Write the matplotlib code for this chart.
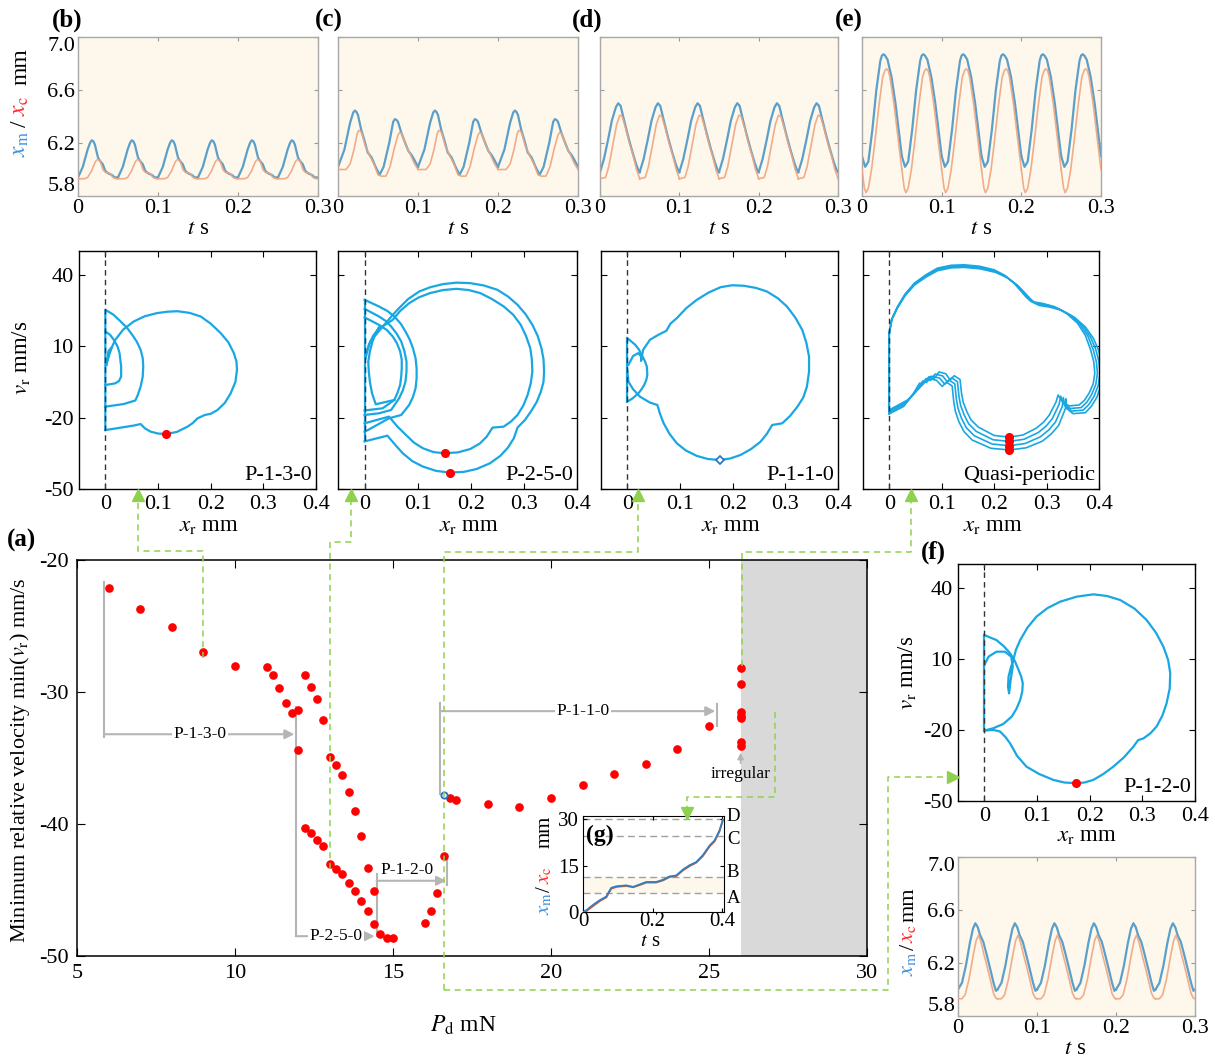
import numpy as np
import matplotlib
matplotlib.use('Agg')  # headless
import matplotlib.pyplot as plt
from matplotlib.lines import Line2D

plt.rcParams['font.family'] = ['Liberation Serif', 'DejaVu Serif']
plt.rcParams['mathtext.fontset'] = 'stix'
plt.rcParams['axes.unicode_minus'] = False

W, H = 1215, 1059

RED = '#ff0000'
CYAN = '#19a7e4'
TS_BLUE = '#5b9fca'
TS_ORANGE = '#f0a47f'
BEIGE = '#fdf8eb'
GREEN = '#8fd14f'
GREY = '#b5b5b5'
LBL_BLUE = '#3d8fdc'
LBL_RED = '#ff2a2a'

# ---------------- (a) minimum relative velocity vs driving force ----------------
p130_force = [6, 7, 8, 9, 10, 11, 11.2, 11.4, 11.6, 11.8]
p130_vmin = [-22.1, -23.7, -25.1, -27.0, -28.0, -28.1, -28.7, -29.7, -30.8, -31.6]
p250_force = [12.0, 12.2, 12.4, 12.6, 12.8, 13.0, 13.2, 13.4, 13.6, 13.8, 14.0, 14.2, 14.4]
p250_vmin_hi = [-31.4, -28.7, -29.6, -30.5, -32.1, -34.9, -35.5, -36.3, -37.6, -39.0, -40.9, -43.3, -45.1]
p250_vmin_lo = [-34.4, -40.3, -40.7, -41.2, -41.7, -43.0, -43.4, -43.8, -44.5, -45.1, -45.8, -46.6, -47.6]
p120_force = [14.6, 14.8, 15.0, 16.0, 16.2, 16.4, 16.6]
p120_vmin = [-48.3, -48.6, -48.6, -47.5, -46.6, -45.2, -42.4]
p110_force = [16.8, 17.0, 18, 19, 20, 21, 22, 23, 24, 25]
p110_vmin = [-38.0, -38.2, -38.5, -38.7, -38.05, -37.05, -36.2, -35.45, -34.3, -32.6]
grazing_force, grazing_vmin = 16.6, -37.8
irregular_force = [26.0, 26.0, 26.0, 26.0, 26.0, 26.0, 26.0]
irregular_vmin = [-28.2, -29.4, -31.5, -31.8, -32.0, -33.8, -34.1]
irregular_start = 26.0

# regime brackets: (start force, end force, level, label)
regimes = [(5.87, 11.88, -33.2, 'P-1-3-0'),
           (11.92, 14.42, -48.5, 'P-2-5-0'),
           (14.48, 16.68, -44.3, 'P-1-2-0'),
           (16.48, 25.2, -31.45, 'P-1-1-0')]

# ---------------- (g) displacement over the whole stroke ----------------
g_t = [0, 0.01, 0.03, 0.048, 0.067, 0.081, 0.096, 0.124, 0.144, 0.163, 0.182, 0.21,
       0.23, 0.249, 0.268, 0.287, 0.306, 0.325, 0.344, 0.364, 0.378, 0.392, 0.402]
g_xm = [0, 0.6, 2.4, 3.8, 5.0, 7.8, 8.3, 8.6, 8.1, 8.9, 9.7, 9.7,
        10.4, 11.5, 11.8, 13.7, 15.1, 16.1, 18.3, 21.5, 23.1, 26.3, 29.8]
g_xc = [0, 0.3, 2.0, 3.5, 4.7, 7.5, 8.1, 8.4, 8.0, 8.7, 9.5, 9.5,
        10.2, 11.3, 11.6, 13.4, 14.8, 15.9, 18.0, 21.2, 22.8, 26.0, 29.8]
g_levels = [6.0, 11.3, 24.7, 30.0]
g_names = ['A', 'B', 'C', 'D']

# ---------------- time histories, one forcing period each ----------------
b_t_m = [0, 0.006, 0.012, 0.015, 0.017, 0.019, 0.021, 0.025, 0.028, 0.031, 0.034, 0.038, 0.042, 0.046, 0.05]
b_x_m = [5.94, 6.02, 6.15, 6.2, 6.22, 6.215, 6.19, 6.09, 6.06, 6.04, 5.99, 5.97, 5.96, 5.94, 5.94]
b_t_c = [0, 0.008, 0.012, 0.017, 0.021, 0.023, 0.025, 0.027, 0.028, 0.031, 0.034, 0.04, 0.044, 0.048, 0.05]
b_x_c = [5.93, 5.93, 5.94, 5.99, 6.05, 6.07, 6.075, 6.07, 6.06, 6.0, 5.98, 5.97, 5.94, 5.93, 5.93]

c_t_m = [0, 0.008, 0.015, 0.019, 0.021, 0.023, 0.025, 0.029, 0.033, 0.037, 0.042, 0.047, 0.052,
         0.057, 0.064, 0.069, 0.071, 0.073, 0.075, 0.079, 0.084, 0.088, 0.093, 0.1]
c_x_m = [6.02, 6.15, 6.35, 6.43, 6.445, 6.435, 6.41, 6.3, 6.22, 6.13, 6.09, 6.02, 5.96,
         6.02, 6.2, 6.36, 6.38, 6.375, 6.36, 6.28, 6.2, 6.14, 6.1, 6.02]
c_t_c = [0, 0.01, 0.015, 0.02, 0.024, 0.026, 0.028, 0.03, 0.034, 0.04, 0.045, 0.05, 0.054,
         0.06, 0.065, 0.07, 0.075, 0.077, 0.079, 0.081, 0.085, 0.09, 0.095, 0.1]
c_x_c = [6.0, 6.0, 6.04, 6.15, 6.27, 6.295, 6.29, 6.27, 6.18, 6.1, 6.04, 5.96, 5.95,
         5.95, 6.02, 6.15, 6.26, 6.28, 6.275, 6.25, 6.18, 6.12, 6.05, 6.0]

d_t_m = [0, 0.005, 0.01, 0.015, 0.02, 0.023, 0.026, 0.03, 0.035, 0.04, 0.045, 0.048, 0.05]
d_x_m = [5.98, 6.08, 6.22, 6.37, 6.47, 6.5, 6.48, 6.38, 6.26, 6.15, 6.05, 6.0, 5.98]
d_t_c = [0, 0.007, 0.011, 0.016, 0.021, 0.025, 0.028, 0.032, 0.037, 0.042, 0.046, 0.049, 0.05]
d_x_c = [5.93, 5.94, 6.02, 6.18, 6.34, 6.41, 6.4, 6.32, 6.2, 6.1, 6.0, 5.95, 5.93]

e_t_m = [0, 0.004, 0.008, 0.013, 0.018, 0.023, 0.025, 0.027, 0.029, 0.032, 0.037, 0.042, 0.046, 0.05]
e_x_m = [6.1, 6.02, 6.06, 6.3, 6.6, 6.82, 6.86, 6.87, 6.86, 6.83, 6.7, 6.5, 6.3, 6.1]
e_t_c = [0, 0.003, 0.005, 0.008, 0.012, 0.016, 0.021, 0.026, 0.029, 0.031, 0.033, 0.035, 0.04, 0.045, 0.05]
e_x_c = [6.0, 5.86, 5.825, 5.86, 6.0, 6.2, 6.47, 6.7, 6.75, 6.76, 6.745, 6.7, 6.5, 6.25, 6.0]

f_t_m = [0, 0.005, 0.01, 0.015, 0.019, 0.022, 0.025, 0.028, 0.032, 0.036, 0.041, 0.045, 0.048, 0.05]
f_x_m = [6.0, 6.05, 6.18, 6.35, 6.46, 6.5, 6.47, 6.41, 6.36, 6.27, 6.15, 6.05, 5.99, 6.0]
f_t_c = [0, 0.005, 0.009, 0.014, 0.019, 0.023, 0.026, 0.029, 0.033, 0.037, 0.041, 0.045, 0.048, 0.05]
f_x_c = [5.93, 5.93, 5.96, 6.08, 6.25, 6.37, 6.41, 6.36, 6.26, 6.17, 6.07, 5.97, 5.935, 5.93]

# ---------------- phase trajectories (x_r mm, v_r mm/s) ----------------
b_loop = [(0, -25.2), (0, 25.3), (0.015, 23.3), (0.029, 20.4), (0.041, 17.8), (0.051, 14.8),
          (0.06, 11.8), (0.067, 8.5), (0.071, 5.0), (0.072, 1.5), (0.071, -2.8), (0.067, -7.0),
          (0.062, -10.3), (0.057, -12.8), (0.035, -14.3), (0, -15.4)]
b_inner = [(0, 16.2), (0.009, 14.8), (0.016, 12.7), (0.023, 10.0), (0.027, 7.1), (0.03, 1.5),
           (0.03, -2.75), (0.026, -4.6), (0.019, -5.6), (0, -6.3)]
b_spike = [(0.002, 2.0), (0.006, 8.0), (0.012, 9.5), (0.004, 4.0)]
b_big = [(0.002, 2.15), (0.008, 7.5), (0.019, 12.7), (0.034, 17.0), (0.054, 20.4), (0.075, 22.6),
         (0.098, 23.9), (0.118, 24.5), (0.137, 24.7), (0.16, 24.0), (0.181, 22.5), (0.2, 19.5),
         (0.219, 15.5), (0.234, 11.5), (0.244, 7.1), (0.249, 3.5), (0.25, 0.05), (0.247, -5.0),
         (0.238, -9.8), (0.227, -13.8), (0.213, -16.8), (0.2, -18.4), (0.189, -18.9),
         (0.175, -20.3), (0.166, -22.3), (0.156, -23.8), (0.136, -26.0), (0.116, -26.9),
         (0.1, -26.7), (0.086, -25.9), (0.075, -24.5), (0.067, -22.7), (0.055, -23.3),
         (0.041, -23.8), (0.01, -24.9), (0, -25.2)]
b_marks = [(0.116, -26.9)]

c_wall = [(0, -30.0), (0, 29.5)]
c_outer = [(0, -30.0), (0.043, -27.6), (0.058, -31.5), (0.072, -35.0), (0.09, -38.3), (0.11, -40.6),
           (0.135, -42.4), (0.161, -43.1), (0.187, -42.8), (0.211, -41.6), (0.236, -39.2),
           (0.256, -36.0), (0.27, -32.6), (0.281, -28.7), (0.288, -24.2), (0.302, -21.0),
           (0.313, -17.5), (0.324, -13.5), (0.332, -9.1), (0.337, -4.9), (0.338, -0.65),
           (0.337, 4.4), (0.333, 9.2), (0.326, 14.3), (0.316, 19.0), (0.303, 23.5), (0.288, 27.4),
           (0.27, 30.9), (0.25, 33.7), (0.225, 35.5), (0.199, 36.5), (0.173, 36.7), (0.148, 36.1),
           (0.124, 34.8), (0.103, 33.0), (0.082, 29.8), (0.065, 26.0), (0.052, 22.9), (0.04, 19.7),
           (0.025, 15.8), (0.011, 12.0), (0.002, 6.4)]
c_inner = [(0, -22.4), (0.046, -19.6), (0.062, -23.8), (0.078, -27.3), (0.093, -30.5), (0.11, -32.9),
           (0.13, -34.5), (0.151, -35.0), (0.176, -34.6), (0.199, -33.2), (0.217, -30.9),
           (0.23, -28.0), (0.241, -24.2), (0.262, -23.8), (0.276, -21.6), (0.288, -18.9),
           (0.299, -14.9), (0.307, -10.5), (0.313, -5.5), (0.316, -0.65), (0.315, 4.4),
           (0.312, 9.2), (0.304, 14.3), (0.294, 19.0), (0.28, 23.2), (0.262, 26.7), (0.24, 29.8),
           (0.218, 32.3), (0.196, 33.6), (0.173, 34.1), (0.148, 33.6), (0.123, 32.3), (0.102, 30.5),
           (0.084, 28.1), (0.067, 24.8), (0.053, 21.1), (0.04, 19.2), (0.027, 17.6), (0.016, 14.3),
           (0.008, 10.6), (0.002, 5.0)]
c_arc1 = [(0, 29.5), (0.027, 26.7), (0.043, 24.8), (0.056, 22.5), (0.068, 19.5), (0.077, 16.2),
          (0.085, 12.8), (0.091, 9.2), (0.096, 5.0), (0.098, 0.75), (0.098, -3.5), (0.096, -7.7),
          (0.091, -11.4), (0.084, -14.7), (0.069, -18.9), (0.046, -20.3), (0, -26.0)]
c_arc2 = [(0, 25.7), (0.027, 22.5), (0.04, 20.6), (0.05, 18.3), (0.06, 15.4), (0.069, 12.0),
          (0.075, 7.9), (0.079, 3.55), (0.079, -0.7), (0.077, -4.9), (0.072, -8.6), (0.065, -11.9),
          (0.05, -16.8), (0.027, -18.2), (0, -18.9)]
c_arc3 = [(0, 22.1), (0.027, 19.0), (0.042, 16.8), (0.053, 14.1), (0.061, 11.2), (0.067, 7.8),
          (0.07, 4.3), (0.07, 0.75), (0.069, -2.8), (0.067, -6.3), (0.062, -9.6), (0.056, -12.6),
          (0.034, -16.1), (0, -17.0)]
c_arc4 = [(0.027, 17.9), (0.02, 15.0), (0.015, 12.0), (0.01, 7.8), (0.007, 3.55), (0.008, -0.7),
          (0.01, -4.9), (0.014, -9.7), (0.021, -14.4), (0.056, -12.6)]
c_marks = [(0.151, -35.0), (0.161, -43.1)]

d_wall = [(0, 13.4), (0, -13.3)]
d_lens = [(0, 13.4), (0.015, 10.6), (0.022, 8.6), (0.027, 6.4), (0.033, 3.9), (0.037, 1.45),
          (0.038, -2.05), (0.036, -4.2), (0.032, -6.3), (0.027, -8.1), (0.021, -9.8),
          (0.01, -11.9), (0, -13.3)]
d_big = [(0.002, 2.15), (0.011, 5.9), (0.021, 7.1), (0.027, 5.4), (0.026, 3.8), (0.03, 8.5),
         (0.043, 12.7), (0.059, 14.8), (0.074, 16.45), (0.082, 19.5), (0.094, 21.8), (0.112, 26.0),
         (0.132, 29.5), (0.154, 32.5), (0.177, 34.8), (0.199, 35.6), (0.221, 35.4), (0.244, 34.5),
         (0.265, 33.0), (0.286, 30.1), (0.303, 26.7), (0.319, 22.0), (0.332, 16.9), (0.34, 11.4),
         (0.345, 5.65), (0.345, -0.7), (0.341, -6.96), (0.334, -11.6), (0.323, -15.4),
         (0.309, -19.3), (0.294, -22.4), (0.275, -23.1), (0.265, -26.8), (0.253, -30.1),
         (0.235, -33.2), (0.215, -35.7), (0.195, -37.2), (0.175, -37.8), (0.153, -37.4),
         (0.132, -36.1), (0.111, -33.8), (0.094, -30.8), (0.08, -26.8), (0.069, -22.4),
         (0.062, -18.4), (0.057, -14.7), (0.043, -13.7), (0.024, -11.2), (0.011, -8.1),
         (0.002, -4.9), (0, 0)]
d_marks = [(0.175, -37.8)]

e_base = [(0, -16.8), (0, 15.5), (0.005, 21.5), (0.016, 26.7), (0.03, 31.8), (0.048, 36.5),
          (0.07, 40.0), (0.092, 42.8), (0.118, 44.0), (0.143, 44.2), (0.172, 43.6), (0.2, 42.1),
          (0.22, 39.8), (0.238, 36.5), (0.26, 30.9), (0.27, 28.8), (0.292, 28.0), (0.314, 26.7),
          (0.338, 23.8), (0.359, 19.7), (0.374, 14.5), (0.384, 8.5), (0.39, 3.5), (0.392, -1.35),
          (0.389, -5.8), (0.381, -9.8), (0.372, -12.8), (0.362, -14.7), (0.343, -15.1),
          (0.33, -13.3), (0.322, -10.5), (0.318, -13.5), (0.305, -19.0), (0.294, -22.0),
          (0.28, -24.5), (0.255, -27.3), (0.229, -28.2), (0.2, -27.5), (0.17, -24.0),
          (0.156, -21.0), (0.148, -17.5), (0.141, -13.5), (0.138, -10.0), (0.135, -4.0),
          (0.124, -2.4), (0.116, -4.2), (0.108, -1.6), (0.095, -0.8), (0.086, -3.5),
          (0.076, -2.8), (0.06, -7.0), (0.035, -12.6), (0, -16.8)]
# how strongly each point of the quasi-periodic orbit drifts (velocity, displacement)
e_spread_v = [0.3, 0, 0.05, 0.1, 0.12, 0.15, 0.18, 0.2, 0.2, 0.2, 0.2, 0.2,
              0.2, 0.2, 0.3, 0.3, 0.3, 0.3, 0.3, 0.3, 0.2, 0, 0, 0,
              0.1, 0.3, 0.45, 0.6, 0.6, 0.5, 0.3, 0.5, 0.8, 0.9, 1, 1,
              1, 1, 1, 0.9, 0.8, 0.7, 0.6, 0.5, 0.5, 0.5, 0.5, 0.5,
              0.5, 0.5, 0.6, 0.5, 0.3]
e_spread_x = [0, 0, 0, 0, 0, 0, 0, 0, 0, 0, 0.1, 0.2,
              0.35, 0.5, 0.8, 1, 1, 1, 1, 1, 1, 1, 1, 1,
              1, 1, 0.9, 0.8, 0.5, 0.5, 1, 1.2, 1.2, 1, 0.8, 0.4,
              0, -0.4, -0.8, -0.9, -1, -1, -1, -1, -1, -1, -1.2, -1.5,
              -1.5, -1.2, -1, -0.5, 0]
e_drift_v = [0, 1.8, 3.6, 5.4]
e_drift_x = [0, 0.005, 0.01, 0.015]
e_mark_x, e_mark_v = 0.229, -28.2

f_wall = [(0, 20.0), (0, -20.3)]
f_arc = [(0, 20.0), (0.023, 17.9), (0.037, 15.3), (0.049, 12.3), (0.058, 9.0), (0.065, 5.3),
         (0.07, 2.5), (0.073, -0.35), (0.072, -3.9), (0.068, -7.4), (0.061, -11.1), (0.052, -14.4),
         (0.036, -17.5), (0.017, -19.3), (0, -20.3)]
f_big = [(0, 7.4), (0.008, 10.9), (0.023, 13.0), (0.039, 13.0), (0.051, 10.9), (0.054, 6.7),
         (0.05, 1.05), (0.047, -4.6), (0.045, -1.8), (0.046, 2.5), (0.05, 6.0), (0.055, 9.5),
         (0.06, 13.8), (0.068, 17.9), (0.082, 23.2), (0.099, 27.8), (0.12, 31.4), (0.144, 34.1),
         (0.175, 36.2), (0.207, 37.2), (0.233, 36.5), (0.258, 34.8), (0.285, 31.2), (0.308, 26.4),
         (0.326, 21.0), (0.34, 15.1), (0.349, 9.5), (0.353, 3.9), (0.352, -2.5), (0.346, -8.8),
         (0.338, -14.0), (0.327, -18.6), (0.315, -21.5), (0.302, -23.6), (0.292, -24.3),
         (0.283, -27.1), (0.265, -31.6), (0.245, -35.5), (0.226, -38.6), (0.207, -41.1),
         (0.19, -42.2), (0.174, -42.5), (0.152, -42.2), (0.131, -41.1), (0.104, -38.6),
         (0.08, -35.5), (0.062, -30.9), (0.049, -25.7), (0.04, -23.0), (0.03, -20.7),
         (0.017, -20.0), (0, -20.3)]
f_marks = [(0.174, -42.5)]


def box(x0, y0, x1, y1):
    return [x0 / W, 1 - y1 / H, (x1 - x0) / W, (y1 - y0) / H]


def fx(x):
    return x / W


def fy(y):
    return 1 - y / H


fig = plt.figure(figsize=(W / 100, H / 100), dpi=100)


def ftext(x, y, s, **kw):
    kw.setdefault('ha', 'center')
    kw.setdefault('va', 'center')
    return fig.text(fx(x), fy(y), s, **kw)


def mixed_ylabel(x, y_m, y_sl, y_c, y_mm, fs):
    ftext(x, y_m, r'$x_\mathrm{m}$', color=LBL_BLUE, rotation=90, fontsize=fs)
    ftext(x, y_sl, '/', color='k', rotation=90, fontsize=fs)
    ftext(x, y_c, r'$x_\mathrm{c}$', color=LBL_RED, rotation=90, fontsize=fs)
    ftext(x, y_mm, 'mm', color='k', rotation=90, fontsize=fs)


def time_axes(rect, tm, xm, tc, xc, period, show_y):
    ax = fig.add_axes(box(*rect))
    ax.set_facecolor(BEIGE)
    n = int(round(0.3 / period))
    for k in range(n):
        ax.plot(np.array(tm) + k * period, xm, color=TS_BLUE, lw=1.6, zorder=2)
        ax.plot(np.array(tc) + k * period, xc, color=TS_ORANGE, lw=1.2, alpha=0.9, zorder=3)
    ax.set_xlim(0, 0.3)
    ax.set_ylim(5.8, 7.0)
    ax.set_xticks([0, 0.1, 0.2, 0.3])
    ax.set_xticklabels(['0', '0.1', '0.2', '0.3'])
    ax.set_yticks([5.8, 6.2, 6.6, 7.0])
    ax.set_yticklabels(['5.8', '6.2', '6.6', '7.0'] if show_y else [])
    if show_y:
        # keep the end labels inside the axis height
        labels = ax.get_yticklabels()
        labels[-1].set_va('top')
        labels[0].set_va('bottom')
    ax.tick_params(direction='in', length=3, top=True, right=True, labelsize=16,
                   color='#999999', pad=2)
    for s in ax.spines.values():
        s.set_color('#a8a8a8')
        s.set_linewidth(1.0)
    return ax


def phase_axes(rect, curves, marks, tag, show_y, marker='o', lw=1.6):
    ax = fig.add_axes(box(*rect))
    for c in curves:
        xs, vs = np.array(c).T
        ax.plot(xs, vs, color=CYAN, lw=lw, solid_joinstyle='round', zorder=2)
    ax.axvline(0, color='#333333', ls=(0, (4, 3)), lw=1.0, zorder=3)
    mx, mv = np.array(marks).T
    if marker == 'o':
        ax.plot(mx, mv, 'o', color=RED, ms=5.5, zorder=4)
    else:
        ax.plot(mx, mv, 'D', mfc='white', mec='#2470c8', mew=1.2, ms=4.5, zorder=4)
    ax.text(0.392, -48.5, tag, ha='right', va='bottom', fontsize=16)
    ax.set_xlim(-0.05, 0.4)
    ax.set_ylim(-50, 50)
    ax.set_xticks([0, 0.1, 0.2, 0.3, 0.4])
    ax.set_xticklabels(['0', '0.1', '0.2', '0.3', '0.4'])
    ax.set_yticks([-50, -20, 10, 40])
    ax.set_yticklabels(['-50', '-20', '10', '40'] if show_y else [])
    ax.tick_params(direction='in', length=4, top=True, right=True, labelsize=16, pad=4)
    for s in ax.spines.values():
        s.set_linewidth(1.0)
    return ax


# ---- top row time histories ----
time_axes((78, 37, 318, 196), b_t_m, b_x_m, b_t_c, b_x_c, 0.05, True)
time_axes((338, 37, 578, 196), c_t_m, c_x_m, c_t_c, c_x_c, 0.1, False)
time_axes((600, 37, 838, 196), d_t_m, d_x_m, d_t_c, d_x_c, 0.05, False)
time_axes((862, 37, 1101, 196), e_t_m, e_x_m, e_t_c, e_x_c, 0.05, False)
for xc in (198, 458, 719, 981):
    ftext(xc, 229, r'$t$ s', fontsize=16.5)
mixed_ylabel(21, 144, 124, 106, 67, 17)

# ---- phase portraits ----
phase_axes((79, 251, 316, 489), [b_loop, b_inner, b_spike, b_big], b_marks, 'P-1-3-0', True)
phase_axes((338, 251, 577, 489), [c_wall, c_outer, c_inner, c_arc1, c_arc2, c_arc3, c_arc4],
           c_marks, 'P-2-5-0', False)
phase_axes((601, 251, 838, 489), [d_wall, d_lens, d_big], d_marks, 'P-1-1-0', False, marker='D')

e_curves, e_marks = [], []
bx, bv = np.array(e_base).T
for dv, dx in zip(e_drift_v, e_drift_x):
    e_curves.append(list(zip(bx + dx * np.array(e_spread_x), bv - dv * np.array(e_spread_v))))
    e_marks.append((e_mark_x, e_mark_v - dv))
phase_axes((863, 251, 1099, 489), e_curves, e_marks, 'Quasi-periodic', False, lw=1.2)

for xc in (209, 469, 731, 993):
    ftext(xc, 526, r'$x_\mathrm{r}$ mm', fontsize=16.5)
ftext(21, 358, r'$v_\mathrm{r}$ mm/s', rotation=90, fontsize=16.5)

# ---- (f) P-1-2-0 ----
phase_axes((958, 564, 1195, 801), [f_wall, f_arc, f_big], f_marks, 'P-1-2-0', True)
ftext(1087, 836, r'$x_\mathrm{r}$ mm', fontsize=16.5)
ftext(907, 673, r'$v_\mathrm{r}$ mm/s', rotation=90, fontsize=16.5)
time_axes((958, 857, 1195, 1016), f_t_m, f_x_m, f_t_c, f_x_c, 0.05, True)
ftext(1075, 1049, r'$t$ s', fontsize=16.5)
mixed_ylabel(909, 964, 947, 934, 905, 16)

# ---- (a) main diagram ----
ax = fig.add_axes(box(77, 560, 867, 956))
ax.axvspan(irregular_start, 30, color='#d9d9d9', lw=0, zorder=0)
dot = dict(ls='none', marker='o', color=RED, ms=5.2, zorder=4)
ax.plot(p130_force, p130_vmin, **dot)
ax.plot(p250_force, p250_vmin_hi, **dot)
ax.plot(p250_force, p250_vmin_lo, **dot)
ax.plot(p120_force, p120_vmin, **dot)
ax.plot(p110_force, p110_vmin, **dot)
ax.plot(irregular_force, irregular_vmin, **dot)
ax.plot([grazing_force], [grazing_vmin], 'o', mfc='white', mec='#2470c8', mew=1.3, ms=4.5,
        zorder=5)

arrow_kw = dict(arrowstyle='-|>', color=GREY, lw=1.5, mutation_scale=14, shrinkA=0, shrinkB=0)
# vertical guide bars at the start and end of each regime
ax.plot([5.87, 5.87], [-21.7, -33.4], color=GREY, lw=1.5, zorder=2)
ax.plot([11.92, 11.92], [-31.1, -48.5], color=GREY, lw=1.5, zorder=2)
ax.plot([14.48, 14.48], [-43.8, -48.5], color=GREY, lw=1.5, zorder=2)
ax.plot([16.72, 16.72], [-42.5, -44.6], color=GREY, lw=1.5, zorder=2)
ax.plot([16.48, 16.48], [-30.85, -37.75], color=GREY, lw=1.5, zorder=2)
ax.plot([25.26, 25.26], [-30.9, -32.6], color=GREY, lw=1.5, zorder=2)
for x0, x1, lev, name in regimes:
    ax.annotate('', xy=(x1, lev), xytext=(x0, lev), arrowprops=arrow_kw, zorder=2)
label_pos = {'P-1-3-0': (8.9, -33.2), 'P-2-5-0': (13.2, -48.5),
             'P-1-2-0': (15.45, -43.5), 'P-1-1-0': (21.0, -31.45)}
for name, (lx, ly) in label_pos.items():
    bb = None if name == 'P-1-2-0' else dict(fc='white', ec='none', pad=1)
    ax.text(lx, ly, name, ha='center', va='center', fontsize=12.5, bbox=bb, zorder=3)
ax.annotate('', xy=(irregular_start, -34.6), xytext=(irregular_start, -35.4),
            arrowprops=dict(arrowstyle='-|>', color=GREY, lw=1.2, mutation_scale=9,
                            shrinkA=0, shrinkB=0))
ax.text(irregular_start, -36.2, 'irregular', ha='center', va='center', fontsize=12.5)

ax.set_xlim(5, 30)
ax.set_ylim(-50, -20)
ax.set_xticks([5, 10, 15, 20, 25, 30])
ax.set_yticks([-50, -40, -30, -20])
ax.tick_params(direction='in', length=6, top=True, right=True, labelsize=16, pad=6)
for s in ax.spines.values():
    s.set_linewidth(1.1)
ftext(463, 1025, r'$P_\mathrm{d}$ mN', fontsize=17)
ftext(20, 760, r'Minimum relative velocity min($v_\mathrm{r}$) mm/s', rotation=90, fontsize=16)

# ---- (g) inset ----
axg = fig.add_axes(box(583, 816, 724, 912))
axg.axhspan(g_levels[0], g_levels[1], color=BEIGE, lw=0, zorder=0)
for lev in g_levels:
    axg.axhline(lev, color='#a0a0a0', ls=(0, (5, 3)), lw=1.0, zorder=1)
axg.plot(g_t, g_xc, color='#e8582a', lw=1.3, zorder=2)
axg.plot(g_t, g_xm, color='#2d7fc0', lw=1.3, zorder=3)
axg.set_xlim(0, 0.405)
axg.set_ylim(0, 31)
axg.set_xticks([0, 0.2, 0.4])
axg.set_xticklabels(['0', '0.2', '0.4'])
axg.set_yticks([0, 15, 30])
axg.tick_params(direction='in', length=3, top=True, right=True, labelsize=15)
axg.tick_params(axis='x', pad=0)
axg.tick_params(axis='y', pad=3)
# level letters pushed slightly apart so the close pairs stay readable
for lev, nm, nudge in zip(g_levels, g_names, [-4, 3, -3, 2]):
    axg.annotate(nm, xy=(1.0, lev), xycoords=axg.get_yaxis_transform(),
                 xytext=(2, nudge), textcoords='offset points', ha='left', va='center',
                 fontsize=13.5)
axg.text(0.02, 0.8, '(g)', transform=axg.transAxes, fontsize=17, fontweight='bold',
         va='center')
ftext(650, 941, r'$t$ s', fontsize=15)
mixed_ylabel(545, 903, 889, 875, 832, 15)

# ---- panel letters ----
for lbl, (lx, ly) in {'(b)': (67, 20), '(c)': (329, 20), '(d)': (587, 20), '(e)': (849, 20),
                      '(a)': (22, 540), '(f)': (933, 552)}.items():
    ftext(lx, ly, lbl, fontsize=18, fontweight='bold')


# ---- dashed links from the diagram to the detail panels ----
def green_path(points, head, marker):
    xs = [fx(p[0]) for p in points]
    ys = [fy(p[1]) for p in points]
    fig.add_artist(Line2D(xs, ys, transform=fig.transFigure, color=GREEN, lw=1.1,
                          ls=(0, (4, 3)), zorder=20))
    fig.add_artist(Line2D([fx(head[0])], [fy(head[1])], transform=fig.transFigure,
                          marker=marker, ms=8, color=GREEN, ls='none', zorder=20))


green_path([(203, 658), (203, 551), (138, 551), (138, 498)], (138, 495), '^')
green_path([(329.5, 869), (329.5, 542), (351, 542), (351, 498)], (351, 495), '^')
green_path([(443.5, 990), (443.5, 552), (638, 552), (638, 498)], (638, 495), '^')
green_path([(443.5, 990), (888, 990), (888, 777), (950, 777)], (953, 777), '>')
green_path([(742, 666), (742, 552), (911, 552), (911, 498)], (911, 495), '^')
green_path([(775, 712), (775, 797), (687, 797), (687, 810)], (687, 813), 'v')

fig.savefig('out.png', dpi=100)
